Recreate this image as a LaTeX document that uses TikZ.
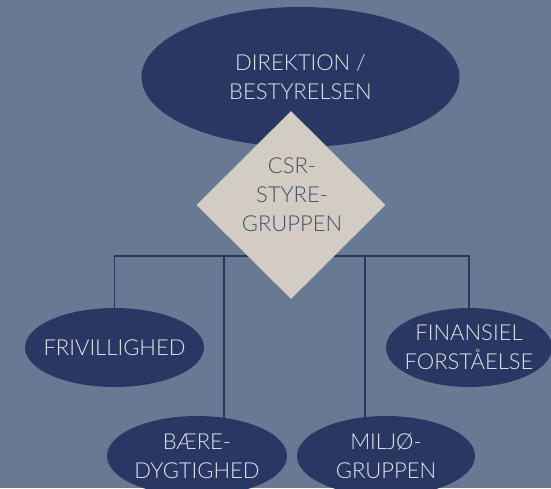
\documentclass[tikz,border=0pt]{standalone}
\usepackage{fontspec}
\setmainfont{Lato Light}
\usetikzlibrary{shapes.geometric,backgrounds}
\definecolor{bg}{HTML}{687A93}
\definecolor{navy}{HTML}{283862}
\definecolor{sand}{HTML}{D3CCC2}
\definecolor{lighttxt}{HTML}{E4E5EA}
\definecolor{darktxt}{HTML}{464E66}
\tikzset{
  oval/.style={ellipse, fill=navy, text=lighttxt, inner sep=-20pt, align=center,
    font=\fontsize{22}{29}\selectfont},
  rhomb/.style={diamond, fill=sand, inner sep=0pt,
    minimum width=189pt, minimum height=188pt},
  rhombtext/.style={text=darktxt, inner sep=0pt, align=center,
    font=\fontsize{22}{29}\selectfont},
  conn/.style={draw=navy, line width=1.2pt},
}
\begin{document}
\begin{tikzpicture}[x=1pt,y=-1pt]
\begin{pgfonlayer}{background}
\fill[bg] (0,0) rectangle (551,488);
\end{pgfonlayer}
\useasboundingbox (0,0) rectangle (551,488);
\node[oval, minimum width=318pt, minimum height=140pt] (top) at (300.5,77) {DIREKTION /\\BESTYRELSEN};
\node[rhomb] (csr) at (291,205) {};
\node[rhombtext] (csrtext) at (292,195) {CSR-\\STYRE-\\GRUPPEN};
\node[oval, minimum width=179pt, minimum height=79pt] (fri) at (114.5,347.5) {FRIVILLIGHED};
\node[oval, minimum width=166pt, minimum height=79pt] (fin) at (469,347.5) {FINANSIEL\\FORSTÅELSE};
\node[oval, minimum width=180pt, minimum height=80pt] (baere) at (197,456) {BÆRE-\\DYGTIGHED};
\node[oval, minimum width=178pt, minimum height=80pt] (miljo) at (386,456) {MILJØ-\\GRUPPEN};
\coordinate (hub) at (291,256);
\coordinate (jb) at (224,256);
\coordinate (jm) at (365,256);
\begin{pgfonlayer}{background}
\draw[conn] (fri.north) |- (hub) -| (fin.north);
\draw[conn] (jb) -- (jb |- baere.center);
\draw[conn] (jm) -- (jm |- miljo.center);
\end{pgfonlayer}
\end{tikzpicture}
\end{document}
